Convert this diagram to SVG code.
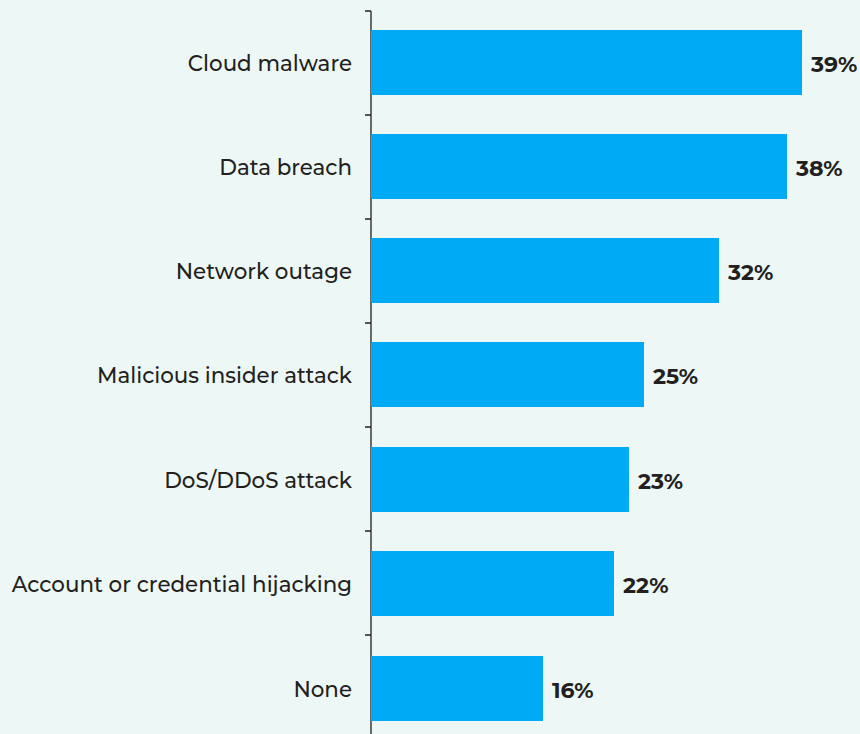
<svg xmlns="http://www.w3.org/2000/svg" width="860" height="734" viewBox="0 0 860 734">
<style>
.bg{fill:#EDF8F6}
.bar{fill:#00AAF5}
.lbl{font-family:"Montserrat","Open Sans","Liberation Sans",sans-serif;font-weight:500;font-size:21.4px;fill:#231F20;text-anchor:end}
.val{font-family:"Montserrat","Open Sans","Liberation Sans",sans-serif;font-weight:bold;font-size:22px;fill:#231F20}
.ax{stroke:#231F20;stroke-width:1.3;fill:none}
</style>
<rect class="bg" x="0" y="0" width="860" height="734"/>
<g id="axis">
<path class="ax" d="M371,11V734 M365,11H371 M365,115H371 M365,219H371 M365,323H371 M365,427H371 M365,531H371 M365,635H371"/>
</g>
<g id="bar-cloud-malware"><rect class="bar" x="371" y="30" width="431" height="65"/><text class="lbl" x="352" y="71">Cloud malware</text><text class="val" x="811" y="72">39%</text></g>
<g id="bar-data-breach"><rect class="bar" x="371" y="134" width="416" height="65"/><text class="lbl" x="352" y="175">Data breach</text><text class="val" x="796" y="176">38%</text></g>
<g id="bar-network-outage"><rect class="bar" x="371" y="238" width="348" height="65"/><text class="lbl" x="352" y="279">Network outage</text><text class="val" x="728" y="280">32%</text></g>
<g id="bar-malicious-insider"><rect class="bar" x="371" y="342" width="273" height="65"/><text class="lbl" x="352" y="383">Malicious insider attack</text><text class="val" x="653" y="384">25%</text></g>
<g id="bar-dos"><rect class="bar" x="371" y="447" width="258" height="65"/><text class="lbl" x="352" y="488">DoS/DDoS attack</text><text class="val" x="638" y="489">23%</text></g>
<g id="bar-account"><rect class="bar" x="371" y="551" width="243" height="65"/><text class="lbl" x="352" y="592">Account or credential hijacking</text><text class="val" x="623" y="593">22%</text></g>
<g id="bar-none"><rect class="bar" x="371" y="656" width="172" height="65"/><text class="lbl" x="352" y="697">None</text><text class="val" x="552" y="698">16%</text></g>
</svg>
